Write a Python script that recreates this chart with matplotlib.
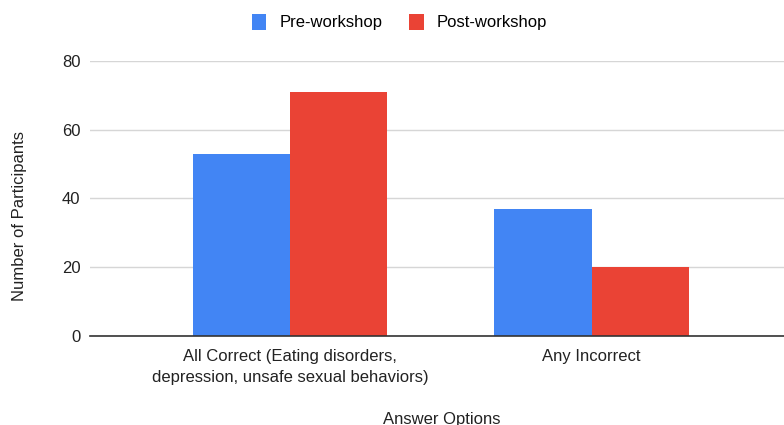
import matplotlib.pyplot as plt
import numpy as np

plt.rcParams['font.family'] = ['Liberation Sans', 'DejaVu Sans']

categories = ["All Correct (Eating disorders,\ndepression, unsafe sexual behaviors)", "Any Incorrect"]
pre_workshop = [53, 37]
post_workshop = [71, 20]
y_ticks = [0, 20, 40, 60, 80]

blue = "#4285F4"
red = "#EA4335"
txt = "#222222"

fig = plt.figure(figsize=(7.84, 4.25), dpi=100)
ax = fig.add_axes([0.1148, 0.2094, 0.895, 0.6471])

x = np.arange(len(categories))
w = 0.322
ax.bar(x - w / 2, pre_workshop, w, color=blue, label="Pre-workshop", linewidth=0)
ax.bar(x + w / 2, post_workshop, w, color=red, label="Post-workshop", linewidth=0)

ax.set_xlim(-0.664, 1.664)
ax.set_ylim(0, 80)
ax.set_yticks(y_ticks)
ax.set_xticks(x)
ax.set_xticklabels(categories, fontsize=12, color=txt, linespacing=1.55)
ax.tick_params(axis='y', labelsize=12, labelcolor=txt, length=0, pad=7)
ax.tick_params(axis='x', length=0, pad=9)
ax.grid(axis='y', color="#d6d6d6", linewidth=1)
ax.set_axisbelow(True)
for s in ['top', 'right', 'left']:
    ax.spines[s].set_visible(False)
ax.spines['bottom'].set_color("#333333")
ax.spines['bottom'].set_linewidth(1.2)

ax.set_ylabel("Number of Participants", fontsize=12, color=txt)
ax.yaxis.set_label_coords(-0.09, 0.435)
# axis title sits partly below the bottom edge
fig.text(0.563, 0.03, "Answer Options", fontsize=12, color=txt, ha='center', va='top')

fig.legend(loc='center', bbox_to_anchor=(0.51, 0.948), ncol=2, frameon=False,
           fontsize=12, handlelength=0.85, handleheight=1.1, columnspacing=1.6,
           handletextpad=0.8)

fig.savefig("out.png", dpi=100)
